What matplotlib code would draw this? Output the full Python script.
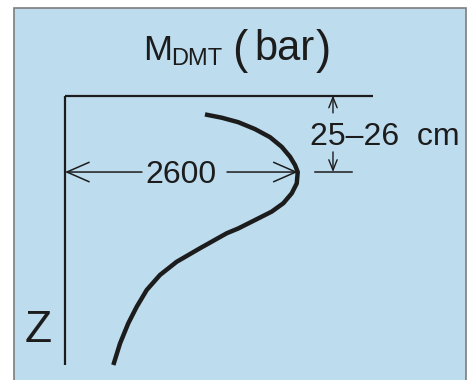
import matplotlib
matplotlib.use("Agg")
import matplotlib.pyplot as plt
from matplotlib.patches import Rectangle

# M_DMT profile (bar vs depth in cm)
modulus = [1564, 1751, 1936, 2123, 2291, 2421, 2514, 2570, 2600, 2589, 2533, 2439,
           2309, 2123, 1936, 1807, 1508, 1248, 1061, 913, 801, 707, 615, 540]
depth = [6.3, 7.4, 8.9, 11.2, 13.9, 17.1, 20.4, 23.2, 25.5, 29.3, 32.6, 35.9,
         38.7, 41.5, 44.3, 45.9, 50.9, 55.4, 59.8, 64.8, 70.4, 75.9, 82.6, 89.8]

peak_value = 2600
peak_depth = 25.5
peak_label = "2600"
depth_label = "25\u201326  cm"
title_main = "M"
title_sub = "DMT"
axis_label = "Z"

W, H = 476, 380
BG = "#bddcee"
INK = "#1c1c1c"
FONT = ["Liberation Sans", "DejaVu Sans"]


def px(x, y):
    # pixel position (top-left origin) -> figure fraction
    return x / W, 1 - y / H


fig = plt.figure(figsize=(W / 100, H / 100), dpi=100, facecolor="white")

# light blue panel with grey frame
fig.patches.append(Rectangle(px(14, 400), 452 / W, 392 / H, transform=fig.transFigure,
                             facecolor=BG, edgecolor="#7d7d7d", linewidth=1.2, zorder=-5))

x0, y0 = px(65, 365)
x1, y1 = px(373, 95.5)
ax = fig.add_axes([x0, y0, x1 - x0, y1 - y0])
ax.set_zorder(2)
ax.set_facecolor("none")
ax.set_xlim(0, 3441)
ax.set_ylim(89.8, 0)
for side in ["right", "bottom"]:
    ax.spines[side].set_visible(False)
for side in ["left", "top"]:
    ax.spines[side].set_linewidth(1.6)
    ax.spines[side].set_color(INK)
    ax.spines[side].set_capstyle("butt")
ax.set_xticks([])
ax.set_yticks([])

ax.plot(modulus, depth, color=INK, linewidth=3.2, solid_capstyle="butt",
        solid_joinstyle="round", clip_on=False)

# horizontal dimension: 0 -> peak
big = dict(arrowstyle="->,head_length=1.6,head_width=0.7", color=INK, lw=1.1,
           shrinkA=0, shrinkB=0, mutation_scale=10)
ax.annotate("", xy=(0, peak_depth), xytext=(860, peak_depth), arrowprops=big,
            annotation_clip=False)
ax.annotate("", xy=(peak_value, peak_depth), xytext=(1810, peak_depth), arrowprops=big,
            annotation_clip=False)
ax.text(peak_value / 2, 29.2, peak_label, ha="center", va="baseline", fontsize=23,
        family=FONT, color=INK)

# vertical dimension: surface -> peak depth
small = dict(arrowstyle="->,head_length=0.75,head_width=0.3", color=INK, lw=1.0,
             shrinkA=0, shrinkB=0, mutation_scale=10)
ax.annotate("", xy=(2994, 0), xytext=(2994, 5.8), arrowprops=small, annotation_clip=False)
ax.annotate("", xy=(2994, peak_depth), xytext=(2994, 18.8), arrowprops=small,
            annotation_clip=False)
ax.plot([2793, 3207], [peak_depth, peak_depth], color=INK, lw=1.1, clip_on=False)
ax.text(2737, 16.5, depth_label, ha="left", va="baseline", fontsize=23,
        family=FONT, color=INK, clip_on=False)

# title M_DMT (bar)
fig.text(*px(143, 60), title_main, fontsize=25, family=FONT, color=INK, va="baseline")
fig.text(*px(171, 65), title_sub, fontsize=17, family=FONT, color=INK, va="baseline")
fig.text(*px(232, 63), "(", fontsize=33, family=FONT, color=INK, va="baseline")
fig.text(*px(254, 60), "bar", fontsize=30, family=FONT, color=INK, va="baseline")
fig.text(*px(316, 63), ")", fontsize=33, family=FONT, color=INK, va="baseline")

fig.text(*px(25, 342), axis_label, fontsize=32, family=FONT, color=INK, va="baseline")

fig.savefig("out.png", dpi=100, facecolor="white")
plt.close(fig)
